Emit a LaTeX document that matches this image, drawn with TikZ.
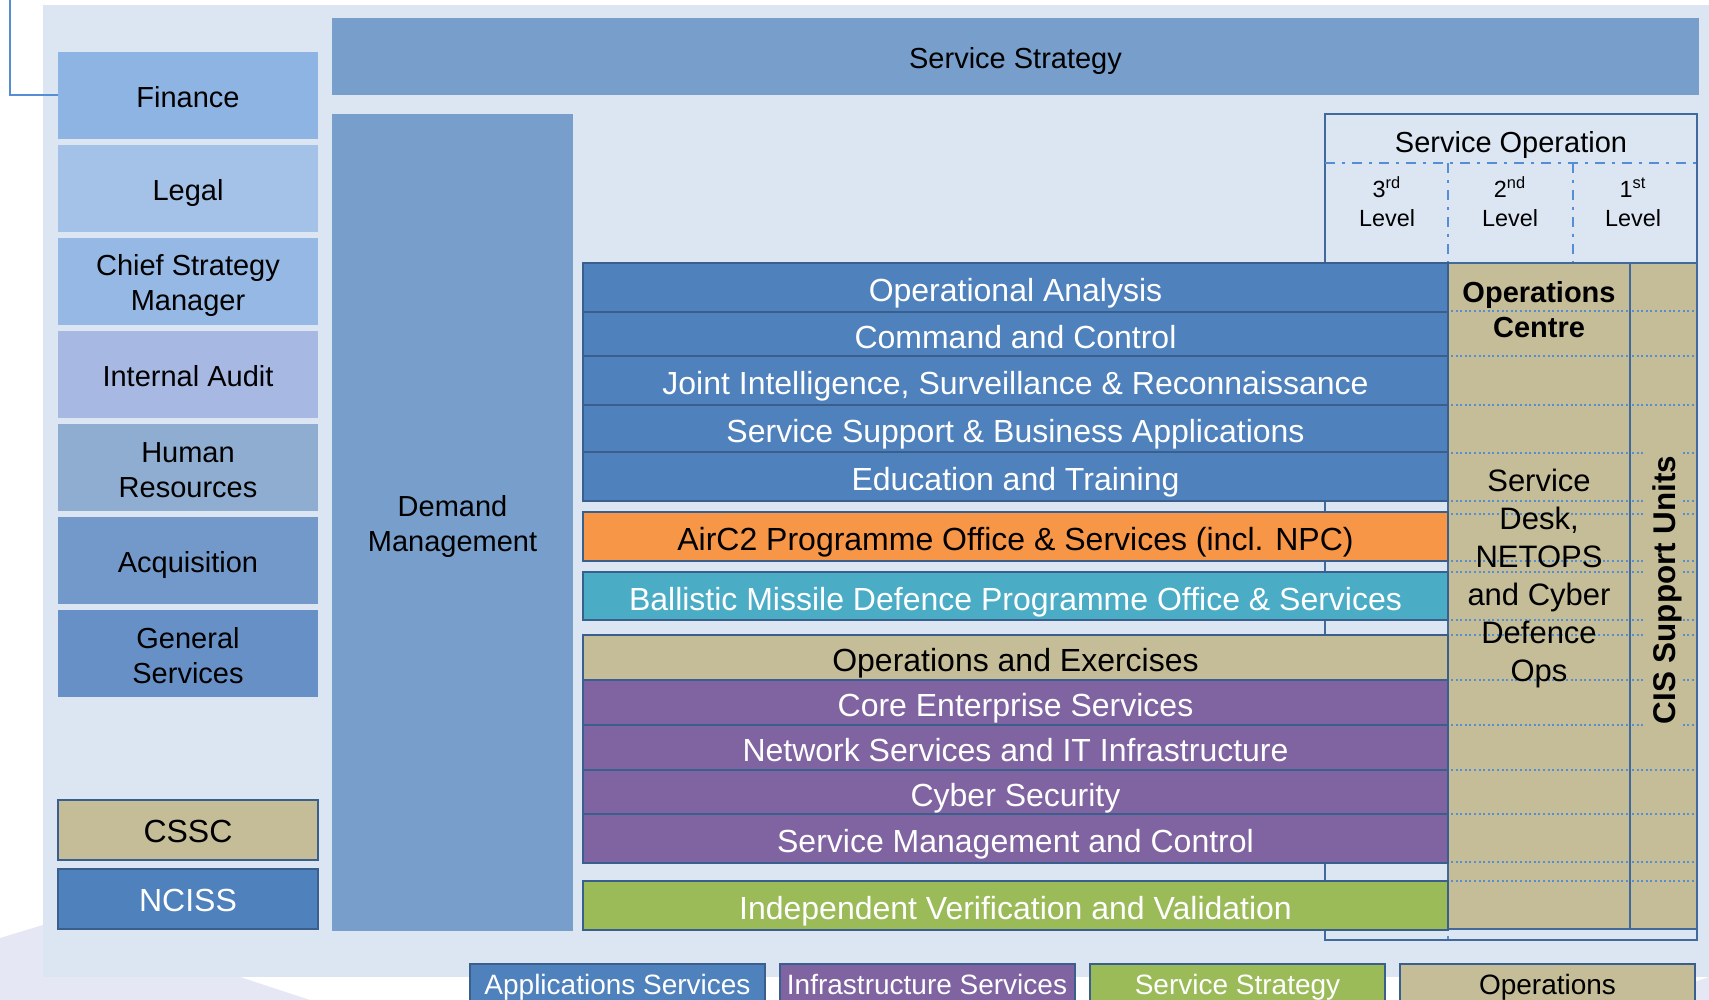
\documentclass[tikz,border=0pt]{standalone}
\usepackage{fontspec}
\setmainfont{Liberation Sans}
\newcommand\fsMain{\fontsize{14.5pt}{17.5pt}\selectfont}
\newcommand\fsRow{\fontsize{16pt}{19pt}\selectfont}
\newcommand\fsLvl{\fontsize{11.7pt}{14.5pt}\selectfont}
\newcommand\fsLeg{\fontsize{14pt}{17pt}\selectfont}
\newcommand\fsDesk{\fontsize{15.5pt}{19pt}\selectfont}
\newcommand\fsBoldC{\fontsize{14.5pt}{17.5pt}\selectfont\bfseries}
\newcommand\fsBoldL{\fontsize{15.7pt}{18pt}\selectfont\bfseries}
\definecolor{cBg}{HTML}{DCE6F2}
\definecolor{cLav}{HTML}{E5E8F4}
\definecolor{cBar}{HTML}{789ECB}
\definecolor{cBlue}{HTML}{4F81BD}
\definecolor{cBorder}{HTML}{3A5F8C}
\definecolor{cFrame}{HTML}{41699C}
\definecolor{cDot}{HTML}{558ED5}
\definecolor{cTan}{HTML}{C4BD97}
\definecolor{cOrange}{HTML}{F79646}
\definecolor{cTeal}{HTML}{4BACC6}
\definecolor{cPurple}{HTML}{8064A2}
\definecolor{cGreen}{HTML}{9BBB59}
\definecolor{cFin}{HTML}{8EB4E3}
\definecolor{cLegal}{HTML}{A4C2E8}
\definecolor{cCsm}{HTML}{95B8E4}
\definecolor{cIa}{HTML}{A7B9E3}
\definecolor{cHr}{HTML}{8FACD1}
\definecolor{cAcq}{HTML}{7399CB}
\definecolor{cGs}{HTML}{6791C6}
\begin{document}
\begin{tikzpicture}[x=0.5pt,y=-0.5pt,
  every node/.style={inner sep=0pt, outer sep=0pt, align=center},
  % single-line labels: baseline set a little below the node centre
  capA/.style={text height=12pt, text depth=0pt},
  capB/.style={text height=14.2pt, text depth=0pt},
  capL/.style={text height=10.02pt, text depth=0pt},
  lbox/.style={minimum width=130pt, minimum height=43.5pt, font=\fsMain, capA},
  lboxe/.style={minimum width=130pt, minimum height=43.5pt},
  bbox/.style={draw=cBorder, line width=1pt, minimum width=130pt, minimum height=30pt, font=\fsRow, text height=12.5pt, text depth=0pt},
  rowbox/.style={draw=cBorder, line width=1pt, minimum width=432.5pt, font=\fsRow, text=white, capB},
  tanbox/.style={draw=cFrame, line width=1pt, fill=cTan, minimum height=333pt},
  legbox/.style={draw=cBorder, line width=1pt, anchor=north, minimum width=147.5pt, minimum height=20.5pt, font=\fsLeg, capL},
  dashdot/.style={draw=cDot, line width=1.25pt, dash pattern=on 5pt off 3.5pt on 1.5pt off 3.5pt},
  dotline/.style={draw=cDot, line width=1pt, dash pattern=on 1pt off 1.3pt},
  brline/.style={draw=cDot, line width=1pt}]
\useasboundingbox (0,0) rectangle (1709,1000);
\clip (0,0) rectangle (1709,1000);
% backdrop and soft shadow shapes
\fill[white] (0,0) rectangle (1709,1000);
\fill[cLav] (0,938) -- (43,925) -- (43,977) -- (240,977) -- (310,1000) -- (0,1000) -- cycle;
\fill[cLav] (1640,1000) -- (1709,977) -- (1709,1000) -- cycle;
\fill[cBg] (43,5) rectangle (1709,977);

% left column of support functions
\node[lbox, fill=cFin] (fin) at (188,95.5) {Finance};
\node[lbox, fill=cLegal] (legal) at (188,188.5) {Legal};
\node[lboxe, fill=cCsm] (csm) at (188,281.5) {};
\node[font=\fsMain] (csmT) at (188,286) {Chief Strategy\\Manager};
\node[lbox, fill=cIa] (ia) at (188,374.5) {Internal Audit};
\node[lboxe, fill=cHr] (hr) at (188,467.5) {};
\node[font=\fsMain] (hrT) at (188,469.7) {Human\\Resources};
\node[lbox, fill=cAcq] (acq) at (188,560.5) {Acquisition};
\node[lboxe, fill=cGs] (gs) at (188,653.5) {};
\node[font=\fsMain] (gsT) at (188,655.7) {General\\Services};
\node[bbox, fill=cTan] (cssc) at (188,830) {CSSC};
\node[bbox, fill=cBlue, text=white] (nciss) at (188,899) {NCISS};

% bracket into Finance
\coordinate (brtop) at (10,-4);
\draw[brline] (brtop) |- (fin.west);

% strategy and demand bars
\node[fill=cBar, minimum width=683.5pt, minimum height=38.5pt, font=\fsMain, capA] (ssbar) at (1015.5,56.5) {Service Strategy};
\node[fill=cBar, minimum width=120.5pt, minimum height=408.5pt] (dm) at (452.5,522.5) {};
\node[font=\fsMain] (dmT) at (452.5,526.9) {Demand\\Management};

% service operation frame
\node[draw=cFrame, line width=1.25pt, minimum width=186pt, minimum height=413pt] (sofr) at (1511,527) {};
\node[font=\fsMain, text height=10.38pt, text depth=0pt] (sotitle) at (1511,142) {Service Operation};
\coordinate (sol) at (1325,163);
\coordinate (sor) at (1697,163);
\coordinate (v3a) at (1448,163);
\coordinate (v3b) at (1448,940);
\coordinate (v2a) at (1573,163);
\coordinate (v2b) at (1573,263);
\draw[dashdot] (sol) -- (sor);
\draw[dashdot] (v3a) -- (v3b);
\draw[dashdot] (v2a) -- (v2b);
\node[font=\fsLvl] (lv3) at (1387,202) {3\textsuperscript{rd}\\Level};
\node[font=\fsLvl] (lv2) at (1510,202) {2\textsuperscript{nd}\\Level};
\node[font=\fsLvl] (lv1) at (1633,202) {1\textsuperscript{st}\\Level};

% operations columns
\node[tanbox, minimum width=91pt] (opsc) at (1539,596) {};
\node[tanbox, minimum width=33.5pt] (cisu) at (1663.5,596) {};
\foreach \yy in {311,356,405,453,501,514,561,572,620,635,680,725,770,814,862,881}{
  \draw[dotline] (1451,\yy) -- (1628,\yy);
  \draw[dotline] (1632,\yy) -- (1695,\yy);
}
\node[font=\fsBoldC] (octxt) at (1539,309.5) {Operations\\Centre};
\node[font=\fsDesk] (sdtxt) at (1539,578) {Service\\Desk,\\NETOPS\\and Cyber\\Defence\\Ops};
\node[font=\fsBoldL, rotate=90, fill=cTan, text height=11.24pt, text depth=0pt, inner xsep=3pt, inner ysep=4pt] (cistxt) at (1664,590) {CIS Support Units};

% service rows
\node[rowbox, fill=cBlue, minimum height=24.5pt] (oa) at (1015.5,287.5) {Operational Analysis};
\node[rowbox, fill=cBlue, minimum height=22pt] (c2) at (1015.5,334) {Command and Control};
\node[rowbox, fill=cBlue, minimum height=24.5pt] (jisr) at (1015.5,380.5) {Joint Intelligence, Surveillance \& Reconnaissance};
\node[rowbox, fill=cBlue, minimum height=23.5pt] (ssba) at (1015.5,428.5) {Service Support \& Business Applications};
\node[rowbox, fill=cBlue, minimum height=24.5pt] (et) at (1015.5,476.5) {Education and Training};
\node[rowbox, fill=cOrange, text=black, minimum height=24.5pt] (airc2) at (1015.5,536.5) {AirC2 Programme Office \& Services (incl. NPC)};
\node[rowbox, fill=cTeal, minimum height=24pt] (bmd) at (1015.5,596) {Ballistic Missile Defence Programme Office \& Services};
\node[rowbox, fill=cTan, text=black, minimum height=22.5pt] (opex) at (1015.5,657.5) {Operations and Exercises};
\node[rowbox, fill=cPurple, minimum height=22.5pt] (ces) at (1015.5,702.5) {Core Enterprise Services};
\node[rowbox, fill=cPurple, minimum height=22.5pt] (nsit) at (1015.5,747.5) {Network Services and IT Infrastructure};
\node[rowbox, fill=cPurple, minimum height=22pt] (cyber) at (1015.5,792) {Cyber Security};
\node[rowbox, fill=cPurple, minimum height=24.5pt] (smc) at (1015.5,838.5) {Service Management and Control};
\node[rowbox, fill=cGreen, minimum height=24.5pt] (ivv) at (1015.5,905.5) {Independent Verification and Validation};

% legend
\node[legbox, fill=cBlue, text=white] (lgapp) at (617.5,964) {Applications Services};
\node[legbox, fill=cPurple, text=white] (lginf) at (927,964) {Infrastructure Services};
\node[legbox, fill=cGreen, text=white] (lgss) at (1237.5,964) {Service Strategy};
\node[legbox, fill=cTan] (lgops) at (1547.5,964) {Operations};
\end{tikzpicture}
\end{document}
